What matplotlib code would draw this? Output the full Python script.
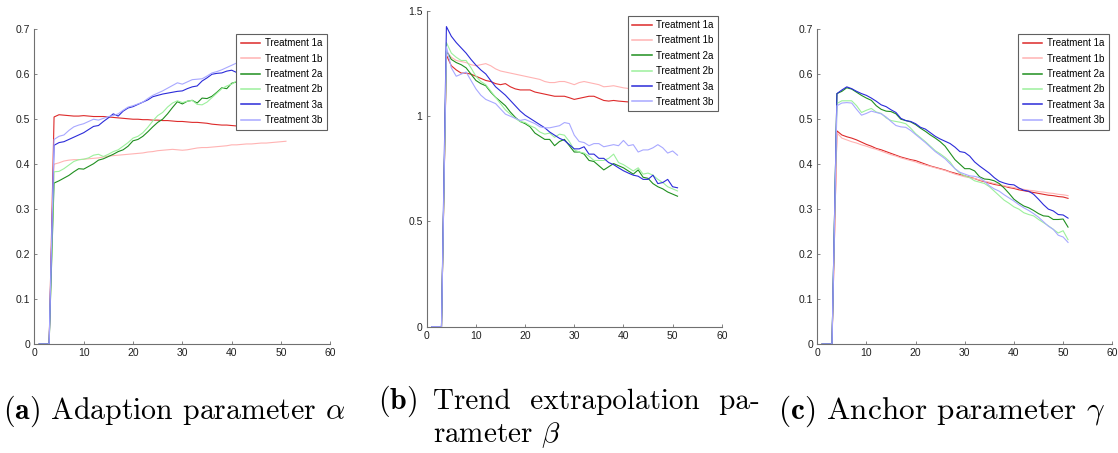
import matplotlib
matplotlib.use("Agg")
import matplotlib.pyplot as plt

plt.rcParams['mathtext.fontset'] = 'cm'

x = list(range(1, 52))
labels = ['Treatment 1a', 'Treatment 1b', 'Treatment 2a',
          'Treatment 2b', 'Treatment 3a', 'Treatment 3b']
colors = ['#dd2a2a', '#ffb3b3', '#1f8f1f', '#9cf09c', '#2b2bd9', '#a8a8ff']

z = [0.0, 0.0, 0.0]

# (a) adaption parameter alpha
a_1a = z + [0.505, 0.510, 0.509, 0.508, 0.507, 0.507, 0.508, 0.507,
            0.506, 0.506, 0.506, 0.505, 0.504, 0.503, 0.502, 0.501,
            0.500, 0.500, 0.499, 0.499, 0.498, 0.498, 0.497, 0.497,
            0.496, 0.495, 0.495, 0.494, 0.493, 0.493, 0.492, 0.491,
            0.489, 0.488, 0.487, 0.487, 0.486, 0.485, 0.483, 0.483,
            0.482, 0.482, 0.481, 0.481, 0.480, 0.480, 0.479, 0.479]
a_1b = z + [0.400, 0.403, 0.407, 0.409, 0.410, 0.410, 0.411, 0.412,
            0.413, 0.414, 0.416, 0.418, 0.419, 0.420, 0.421, 0.422,
            0.423, 0.424, 0.425, 0.427, 0.428, 0.430, 0.431, 0.432,
            0.433, 0.432, 0.431, 0.432, 0.434, 0.436, 0.437, 0.437,
            0.438, 0.439, 0.440, 0.441, 0.443, 0.443, 0.444, 0.445,
            0.445, 0.446, 0.447, 0.447, 0.448, 0.449, 0.450, 0.451]
a_2a = z + [0.358, 0.363, 0.369, 0.375, 0.383, 0.390, 0.389, 0.395,
            0.401, 0.409, 0.412, 0.417, 0.422, 0.428, 0.432, 0.440,
            0.452, 0.455, 0.462, 0.472, 0.483, 0.493, 0.500, 0.512,
            0.526, 0.539, 0.534, 0.540, 0.542, 0.536, 0.547, 0.546,
            0.551, 0.560, 0.570, 0.568, 0.580, 0.583, 0.589, 0.593,
            0.597, 0.601, 0.604, 0.607, 0.611, 0.614, 0.617, 0.620]
a_2b = z + [0.383, 0.384, 0.390, 0.398, 0.406, 0.410, 0.411, 0.414,
            0.420, 0.422, 0.417, 0.422, 0.428, 0.432, 0.440, 0.448,
            0.458, 0.462, 0.470, 0.482, 0.496, 0.508, 0.515, 0.527,
            0.536, 0.541, 0.537, 0.540, 0.542, 0.533, 0.532, 0.538,
            0.548, 0.558, 0.568, 0.574, 0.578, 0.585, 0.592, 0.596,
            0.600, 0.604, 0.607, 0.610, 0.613, 0.616, 0.618, 0.621]
a_3a = z + [0.442, 0.448, 0.450, 0.455, 0.460, 0.465, 0.470, 0.477,
            0.484, 0.486, 0.495, 0.503, 0.512, 0.507, 0.518, 0.525,
            0.528, 0.533, 0.538, 0.543, 0.550, 0.553, 0.556, 0.558,
            0.560, 0.562, 0.563, 0.568, 0.572, 0.574, 0.585, 0.592,
            0.600, 0.602, 0.603, 0.607, 0.609, 0.604, 0.609, 0.611,
            0.613, 0.615, 0.617, 0.619, 0.621, 0.622, 0.624, 0.625]
a_3b = z + [0.455, 0.462, 0.465, 0.475, 0.483, 0.487, 0.490, 0.495,
            0.500, 0.498, 0.502, 0.506, 0.508, 0.512, 0.520, 0.527,
            0.530, 0.534, 0.538, 0.546, 0.553, 0.558, 0.563, 0.569,
            0.575, 0.581, 0.578, 0.583, 0.588, 0.589, 0.590, 0.596,
            0.603, 0.606, 0.610, 0.615, 0.620, 0.625, 0.630, 0.633,
            0.636, 0.639, 0.641, 0.644, 0.646, 0.648, 0.650, 0.652]

# (b) trend extrapolation parameter beta
b_1a = z + [1.290, 1.240, 1.220, 1.205, 1.205, 1.200, 1.190, 1.180,
            1.170, 1.165, 1.155, 1.150, 1.155, 1.140, 1.130, 1.125,
            1.125, 1.125, 1.115, 1.110, 1.105, 1.100, 1.095, 1.095,
            1.095, 1.088, 1.080, 1.085, 1.090, 1.095, 1.095, 1.085,
            1.075, 1.072, 1.075, 1.072, 1.070, 1.068, 1.065, 1.063,
            1.062, 1.060, 1.058, 1.057, 1.055, 1.054, 1.052, 1.050]
b_1b = z + [1.310, 1.280, 1.265, 1.260, 1.255, 1.245, 1.240, 1.245,
            1.250, 1.240, 1.225, 1.215, 1.210, 1.205, 1.200, 1.195,
            1.190, 1.185, 1.180, 1.175, 1.165, 1.160, 1.160, 1.165,
            1.165, 1.158, 1.150, 1.160, 1.165, 1.160, 1.155, 1.150,
            1.140, 1.142, 1.145, 1.140, 1.135, 1.132, 1.130, 1.128,
            1.126, 1.124, 1.122, 1.120, 1.118, 1.116, 1.114, 1.112]
b_2a = z + [1.310, 1.270, 1.255, 1.245, 1.230, 1.200, 1.170, 1.155,
            1.145, 1.115, 1.090, 1.070, 1.050, 1.020, 0.995, 0.975,
            0.965, 0.950, 0.920, 0.905, 0.890, 0.890, 0.860, 0.880,
            0.890, 0.860, 0.830, 0.830, 0.820, 0.790, 0.785, 0.765,
            0.745, 0.760, 0.775, 0.765, 0.755, 0.740, 0.725, 0.745,
            0.710, 0.705, 0.680, 0.665, 0.655, 0.640, 0.630, 0.620]
b_2b = z + [1.350, 1.300, 1.280, 1.265, 1.265, 1.230, 1.190, 1.165,
            1.150, 1.120, 1.090, 1.060, 1.030, 1.010, 0.990, 0.975,
            0.970, 0.955, 0.945, 0.925, 0.915, 0.920, 0.900, 0.915,
            0.910, 0.880, 0.840, 0.830, 0.825, 0.810, 0.790, 0.790,
            0.790, 0.800, 0.820, 0.780, 0.770, 0.755, 0.740, 0.755,
            0.725, 0.730, 0.720, 0.700, 0.685, 0.665, 0.655, 0.645]
b_3a = z + [1.426, 1.380, 1.350, 1.325, 1.300, 1.270, 1.243, 1.220,
            1.201, 1.170, 1.140, 1.120, 1.100, 1.075, 1.050, 1.025,
            1.005, 0.990, 0.975, 0.960, 0.945, 0.925, 0.910, 0.895,
            0.885, 0.865, 0.845, 0.845, 0.855, 0.820, 0.820, 0.800,
            0.800, 0.780, 0.770, 0.755, 0.741, 0.730, 0.720, 0.715,
            0.700, 0.700, 0.720, 0.680, 0.685, 0.700, 0.665, 0.660]
b_3b = z + [1.330, 1.230, 1.190, 1.200, 1.210, 1.170, 1.130, 1.100,
            1.080, 1.070, 1.060, 1.035, 1.010, 1.000, 0.990, 0.980,
            0.985, 0.975, 0.965, 0.950, 0.945, 0.945, 0.950, 0.955,
            0.970, 0.965, 0.910, 0.880, 0.875, 0.860, 0.870, 0.870,
            0.855, 0.860, 0.865, 0.860, 0.885, 0.860, 0.865, 0.830,
            0.840, 0.840, 0.850, 0.865, 0.850, 0.825, 0.835, 0.815]

# (c) anchor parameter gamma
c_1a = z + [0.474, 0.465, 0.461, 0.458, 0.454, 0.449, 0.444, 0.440,
            0.435, 0.432, 0.428, 0.424, 0.420, 0.416, 0.413, 0.410,
            0.408, 0.404, 0.400, 0.396, 0.393, 0.390, 0.387, 0.383,
            0.380, 0.377, 0.374, 0.371, 0.368, 0.364, 0.361, 0.358,
            0.355, 0.353, 0.351, 0.348, 0.346, 0.343, 0.341, 0.339,
            0.337, 0.335, 0.333, 0.331, 0.330, 0.328, 0.327, 0.324]
c_1b = z + [0.470, 0.458, 0.454, 0.450, 0.447, 0.443, 0.440, 0.436,
            0.433, 0.429, 0.425, 0.421, 0.418, 0.414, 0.411, 0.408,
            0.405, 0.401, 0.398, 0.395, 0.392, 0.389, 0.386, 0.382,
            0.378, 0.375, 0.372, 0.370, 0.368, 0.365, 0.362, 0.360,
            0.357, 0.355, 0.352, 0.350, 0.348, 0.346, 0.344, 0.342,
            0.341, 0.339, 0.338, 0.336, 0.335, 0.333, 0.332, 0.330]
c_2a = z + [0.557, 0.562, 0.570, 0.567, 0.560, 0.553, 0.547, 0.542,
            0.530, 0.522, 0.518, 0.517, 0.512, 0.500, 0.497, 0.494,
            0.488, 0.480, 0.473, 0.465, 0.458, 0.450, 0.440, 0.425,
            0.410, 0.400, 0.390, 0.390, 0.385, 0.372, 0.367, 0.366,
            0.363, 0.357, 0.347, 0.335, 0.322, 0.314, 0.307, 0.303,
            0.297, 0.290, 0.285, 0.284, 0.277, 0.277, 0.278, 0.260]
c_2b = z + [0.535, 0.541, 0.541, 0.541, 0.530, 0.515, 0.520, 0.524,
            0.516, 0.513, 0.503, 0.497, 0.495, 0.493, 0.490, 0.480,
            0.468, 0.459, 0.450, 0.440, 0.430, 0.423, 0.415, 0.405,
            0.390, 0.380, 0.374, 0.370, 0.363, 0.360, 0.357, 0.350,
            0.340, 0.330, 0.320, 0.313, 0.305, 0.300, 0.292, 0.288,
            0.285, 0.277, 0.270, 0.263, 0.255, 0.247, 0.252, 0.232]
c_3a = z + [0.557, 0.565, 0.572, 0.568, 0.562, 0.557, 0.553, 0.547,
            0.540, 0.532, 0.528, 0.521, 0.515, 0.502, 0.497, 0.495,
            0.490, 0.482, 0.478, 0.470, 0.462, 0.456, 0.451, 0.446,
            0.438, 0.428, 0.426, 0.418, 0.405, 0.396, 0.388, 0.380,
            0.370, 0.362, 0.358, 0.355, 0.354, 0.347, 0.342, 0.340,
            0.333, 0.322, 0.310, 0.300, 0.296, 0.288, 0.287, 0.280]
c_3b = z + [0.530, 0.536, 0.537, 0.536, 0.522, 0.509, 0.513, 0.518,
            0.515, 0.512, 0.505, 0.495, 0.486, 0.483, 0.482, 0.475,
            0.466, 0.457, 0.448, 0.438, 0.428, 0.420, 0.412, 0.401,
            0.390, 0.382, 0.378, 0.374, 0.373, 0.370, 0.362, 0.352,
            0.345, 0.340, 0.332, 0.325, 0.318, 0.310, 0.303, 0.297,
            0.290, 0.282, 0.272, 0.262, 0.255, 0.242, 0.238, 0.226]

panels = [
    ([a_1a, a_1b, a_2a, a_2b, a_3a, a_3b], 0.7, [0, 0.1, 0.2, 0.3, 0.4, 0.5, 0.6, 0.7],
     ['0', '0.1', '0.2', '0.3', '0.4', '0.5', '0.6', '0.7'], [0.0307, 0.2406, 0.2648, 0.6947]),
    ([b_1a, b_1b, b_2a, b_2b, b_3a, b_3b], 1.5, [0, 0.5, 1, 1.5],
     ['0', '0.5', '1', '1.5'], [0.3817, 0.2788, 0.2639, 0.6969]),
    ([c_1a, c_1b, c_2a, c_2b, c_3a, c_3b], 0.7, [0, 0.1, 0.2, 0.3, 0.4, 0.5, 0.6, 0.7],
     ['0', '0.1', '0.2', '0.3', '0.4', '0.5', '0.6', '0.7'], [0.7310, 0.2406, 0.2639, 0.6947]),
]

tick_font = ['Liberation Sans Narrow', 'Liberation Sans', 'DejaVu Sans']
axis_col = '#707070'

fig = plt.figure(figsize=(11.18, 4.53), dpi=100)

for series, ytop, yt, ytl, rect in panels:
    ax = fig.add_axes(rect)
    for s, lab, col in zip(series, labels, colors):
        ax.plot(x, s, color=col, lw=0.8, label=lab)
    ax.set_xlim(0, 60)
    ax.set_ylim(0, ytop)
    ax.set_xticks([0, 10, 20, 30, 40, 50, 60])
    ax.set_xticklabels(['0', '10', '20', '30', '40', '50', '60'])
    ax.set_yticks(yt)
    ax.set_yticklabels(ytl)
    for sp in ['top', 'right']:
        ax.spines[sp].set_visible(False)
    for sp in ['left', 'bottom']:
        ax.spines[sp].set_color(axis_col)
        ax.spines[sp].set_linewidth(0.8)
    ax.tick_params(direction='in', length=2.5, width=0.6, color=axis_col,
                   labelsize=7.5, pad=3, labelcolor='#202020')
    for t in ax.get_xticklabels() + ax.get_yticklabels():
        t.set_family(tick_font)
    leg = ax.legend(loc='upper right', bbox_to_anchor=(0.988, 0.985),
                    fancybox=False, framealpha=1, edgecolor='#606060',
                    prop={'family': tick_font, 'size': 7},
                    handlelength=2.0, labelspacing=0.55, borderpad=0.45,
                    handletextpad=0.5, borderaxespad=0)
    leg.get_frame().set_linewidth(0.8)
    for h in leg.get_lines():
        h.set_linewidth(1.1)

cap = dict(family='cmr10', va='baseline', ha='left')
fig.text(3 / 1118, 1 - 419 / 453, r'$\mathbf{(a)}$ Adaption parameter $\alpha$', fontsize=21.5, **cap)
fig.text(378 / 1118, 1 - 409 / 453, r'$\mathbf{(b)}$', fontsize=21.5, **cap)
fig.text(433 / 1118, 1 - 409 / 453, r'Trend  extrapolation  pa-', fontsize=21, **cap)
fig.text(433 / 1118, 1 - 442 / 453, r'rameter $\beta$', fontsize=21, **cap)
fig.text(778 / 1118, 1 - 419 / 453, r'$\mathbf{(c)}$ Anchor parameter $\gamma$', fontsize=22.5, **cap)

fig.savefig('out.png', dpi=100)
